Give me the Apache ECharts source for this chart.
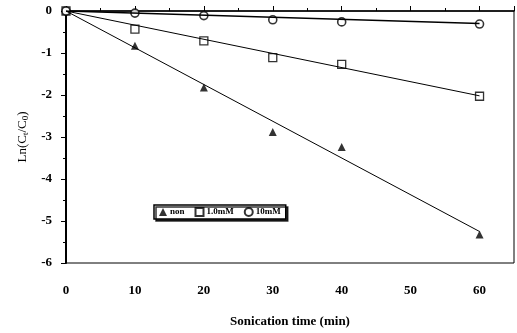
<!DOCTYPE html>
<html><head><meta charset="utf-8">
<script src="https://cdn.jsdelivr.net/npm/echarts@6/dist/echarts.min.js"></script>
<style>html,body{margin:0;padding:0;background:#fff}#c{width:517px;height:333px}</style>
</head><body><div id="c"></div>
<script>
const times = [0, 10, 20, 30, 40, 60];
const nonVals = [0, -0.83, -1.82, -2.88, -3.24, -5.32];
const mM1Vals = [0, -0.43, -0.71, -1.11, -1.27, -2.03];
const mM10Vals = [0, -0.05, -0.11, -0.21, -0.26, -0.31];
const fitX = [0, 60];
const nonFit = [0, -5.25];
const mM1Fit = [0, -2.02];
const mM10Fit = [0, -0.3];
const xTicks = [0, 10, 20, 30, 40, 50, 60];
const yTicks = [0, -1, -2, -3, -4, -5, -6];

const pairs = (xs, ys) => xs.map((x, i) => [x, ys[i]]);
const font = 'Liberation Serif';
const chart = echarts.init(document.getElementById('c'));
const lineStyle = {color: '#000', width: 1};
chart.setOption({
  animation: false,
  backgroundColor: '#fff',
  grid: {left: 66, right: 2, top: 11, bottom: 68, show: true, borderColor: '#000', borderWidth: 1},
  legend: {
    left: 154, top: 205, width: 138, height: 15,
    padding: [2, 5, 2, 5],
    borderColor: '#000', borderWidth: 1.5,
    shadowColor: 'rgba(0,0,0,0.8)', shadowOffsetX: 2, shadowOffsetY: 2, shadowBlur: 0,
    backgroundColor: '#fff',
    itemWidth: 8, itemHeight: 8, itemGap: 10,
    textStyle: {fontFamily: font, fontWeight: 'bold', fontSize: 9, color: '#000', padding: [0, 0, 0, -2]},
    data: ['non', '1.0mM', '10mM']
  },
  xAxis: {
    type: 'value', min: 0, max: 65, interval: 10,
    axisLine: {show: true, lineStyle: {color: '#000', width: 1.5}},
    axisTick: {show: true, inside: true, length: 5, lineStyle: {color: '#000'}},
    minorTick: {show: true, splitNumber: 2, length: 3, lineStyle: {color: '#000'}},
    splitLine: {show: false},
    axisLabel: {
      margin: 21, color: '#000', fontFamily: font, fontWeight: 'bold', fontSize: 13,
      formatter: v => (xTicks.indexOf(v) >= 0 ? String(v) : '')
    },
    name: 'Sonication time (min)', nameLocation: 'middle', nameGap: 52,
    nameTextStyle: {color: '#000', fontFamily: font, fontWeight: 'bold', fontSize: 13}
  },
  yAxis: {
    type: 'value', min: -6, max: 0, interval: 1,
    axisLine: {show: true, onZero: false, lineStyle: {color: '#000', width: 2}},
    axisTick: {show: true, length: 5, lineStyle: {color: '#000'}},
    minorTick: {show: true, splitNumber: 2, length: 3, lineStyle: {color: '#000'}},
    splitLine: {show: false},
    axisLabel: {
      margin: 14, color: '#000', fontFamily: font, fontWeight: 'bold', fontSize: 13,
      formatter: v => (yTicks.indexOf(v) >= 0 ? String(v) : '')
    },
    name: '{a|Ln(C}{s|t}{a|/C}{s|0}{a|)}', nameLocation: 'middle', nameGap: 36, nameRotate: 90,
    nameTextStyle: {
      color: '#000', fontFamily: font, fontSize: 12,
      rich: {
        a: {fontFamily: font, fontSize: 13, color: '#000'},
        s: {fontFamily: font, fontSize: 9, color: '#000', verticalAlign: 'bottom', padding: [6, 0, 0, 0]}
      }
    }
  },
  series: [
    {type: 'line', data: pairs(fitX, nonFit), showSymbol: false, lineStyle, silent: true},
    {type: 'line', data: pairs(fitX, mM1Fit), showSymbol: false, lineStyle, silent: true},
    {type: 'line', data: pairs(fitX, mM10Fit), showSymbol: false, lineStyle: {color: '#000', width: 1.5}, silent: true},
    {name: 'non', type: 'scatter', data: pairs(times, nonVals), symbol: 'triangle', symbolSize: 8,
     itemStyle: {color: '#000'}},
    {name: '1.0mM', type: 'scatter', data: pairs(times, mM1Vals), symbol: 'rect', symbolSize: 8,
     itemStyle: {color: '#fff', borderColor: '#000', borderWidth: 1.3}},
    {name: '10mM', type: 'scatter', data: pairs(times, mM10Vals), symbol: 'circle', symbolSize: 8,
     itemStyle: {color: '#fff', borderColor: '#000', borderWidth: 1.6}}
  ]
});
</script></body></html>
